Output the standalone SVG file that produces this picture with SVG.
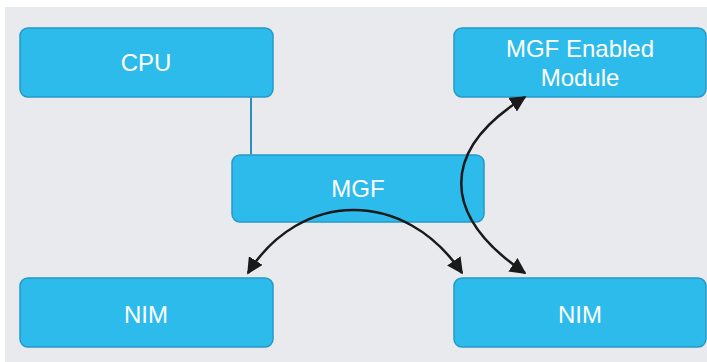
<svg xmlns="http://www.w3.org/2000/svg" width="707" height="362" viewBox="0 0 707 362">
<defs>
<style>
.box{fill:#2dbbec;stroke:#2499c9;stroke-width:1.5}
.lbl{font-family:"Liberation Sans",Arial,sans-serif;font-size:24px;fill:#ffffff;text-anchor:middle}
.arc{fill:none;stroke:#1a1a1a;stroke-width:2.5}
</style>
<marker id="ah" viewBox="0 0 10 10" refX="9" refY="5" markerWidth="6.5" markerHeight="6.5" orient="auto-start-reverse" markerUnits="strokeWidth">
<path d="M0,0 L10,5 L0,10 Z" fill="#1a1a1a"/>
</marker>
</defs>
<rect x="0" y="0" width="707" height="362" fill="#ffffff"/>
<rect x="5" y="7" width="702" height="355" fill="#e9eaee"/>
<g id="cpu">
<rect class="box" x="20" y="28" width="253" height="69" rx="8"/>
<text class="lbl" x="146" y="71">CPU</text>
</g>
<g id="mgf-module">
<rect class="box" x="454" y="28" width="252" height="69" rx="8"/>
<text class="lbl" x="580" y="57">MGF Enabled</text>
<text class="lbl" x="580" y="86">Module</text>
</g>
<g id="mgf">
<rect class="box" x="232" y="155" width="252" height="67" rx="8"/>
<text class="lbl" x="358" y="197">MGF</text>
</g>
<g id="nim-left">
<rect class="box" x="20" y="278" width="253" height="69" rx="8"/>
<text class="lbl" x="146" y="323">NIM</text>
</g>
<g id="nim-right">
<rect class="box" x="454" y="278" width="252" height="69" rx="8"/>
<text class="lbl" x="580" y="323">NIM</text>
</g>
<g id="connectors">
<line x1="251" y1="97.5" x2="251" y2="154.5" stroke="#2a8fbd" stroke-width="2"/>
<path class="arc" d="M248,273 C300,190 405,188 462,273" marker-start="url(#ah)" marker-end="url(#ah)"/>
<path class="arc" d="M525,97 C440,150 440,215 525,273" marker-start="url(#ah)" marker-end="url(#ah)"/>
</g>
</svg>
